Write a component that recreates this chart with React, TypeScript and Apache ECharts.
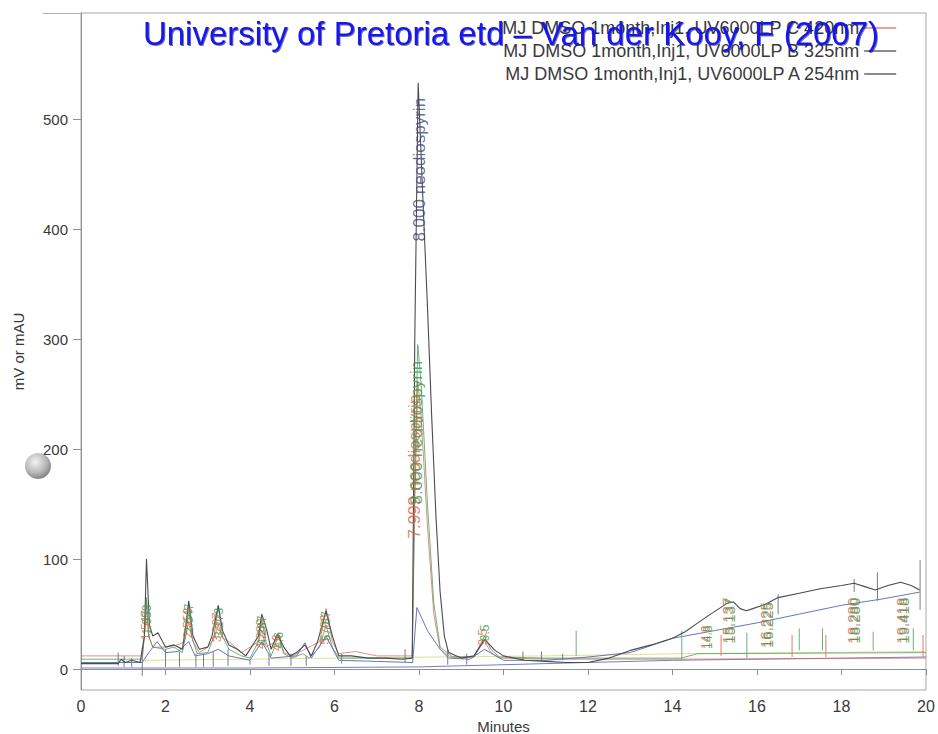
import React, { useEffect, useRef } from 'react';
import * as echarts from 'echarts';

const FONT = '"Liberation Sans", Arial, sans-serif';

const yTickValues = [0, 100, 200, 300, 400, 500];

const nameC = 'MJ DMSO 1month,Inj1, UV6000LP C 420nm';
const nameB = 'MJ DMSO 1month,Inj1, UV6000LP B 325nm';
const nameA = 'MJ DMSO 1month,Inj1, UV6000LP A 254nm';

// dark trace (A 254nm)
const traceA = [
  [0, 5], [0.88, 5], [0.95, 9], [1.05, 6], [1.2, 8], [1.4, 6], [1.5, 30], [1.55, 100], [1.62, 40], [1.7, 30],
  [1.82, 33], [2.0, 20], [2.2, 22], [2.4, 18], [2.5, 45], [2.55, 62], [2.65, 30], [2.8, 18], [3.0, 20],
  [3.1, 30], [3.25, 58], [3.35, 35], [3.5, 22], [3.7, 18], [3.9, 12], [4.2, 30], [4.28, 50], [4.4, 35],
  [4.5, 18], [4.65, 32], [4.8, 20], [4.95, 12], [5.1, 15], [5.3, 22], [5.45, 12], [5.6, 25], [5.8, 53],
  [5.95, 30], [6.1, 12], [6.4, 12], [6.8, 10], [7.2, 10], [7.6, 9], [7.84, 10], [7.9, 300], [7.98, 533],
  [8.1, 420], [8.2, 330], [8.3, 230], [8.4, 140], [8.5, 70], [8.6, 30], [8.7, 15], [9.0, 10], [9.3, 12],
  [9.55, 27], [9.8, 17], [10.0, 12], [10.5, 8], [11.0, 7], [11.5, 6], [12.0, 6], [12.5, 10], [13.0, 17],
  [13.5, 22], [14.0, 28], [14.3, 34], [14.6, 42], [14.9, 50], [15.1, 55], [15.3, 60], [15.45, 61],
  [15.6, 55], [15.75, 53], [15.9, 55], [16.2, 59], [16.5, 65], [17.0, 69], [17.5, 73], [18.0, 76],
  [18.3, 78], [18.55, 75], [18.8, 72], [19.1, 76], [19.4, 79], [19.65, 76], [19.85, 72]
];

// blue trace (B 325nm)
const traceB = [
  [0, 6], [1.45, 6], [1.55, 12], [1.8, 25], [2.0, 15], [2.3, 16], [2.55, 25], [2.7, 12], [3.0, 14],
  [3.25, 18], [3.5, 12], [4.0, 8], [4.28, 25], [4.5, 10], [5.1, 12], [5.3, 24], [5.45, 10], [5.8, 30],
  [6.1, 8], [7.0, 7], [7.85, 6], [7.95, 56], [8.2, 35], [8.5, 18], [8.7, 10], [9.2, 9], [9.55, 18],
  [10.0, 8], [11.0, 8], [12.0, 11], [13.0, 15], [14.0, 28], [15.0, 35], [16.0, 42], [16.5, 46],
  [17.0, 50], [18.0, 58], [19.0, 64], [19.85, 70]
];

// red trace (C)
const traceC = [
  [0, 12], [1.45, 12], [1.5, 30], [1.55, 62], [1.6, 30], [1.7, 20], [2.0, 20], [2.3, 22], [2.45, 25],
  [2.55, 42], [2.65, 25], [2.8, 15], [3.0, 20], [3.15, 28], [3.25, 40], [3.35, 28], [3.5, 25], [3.8, 15],
  [4.2, 25], [4.28, 35], [4.38, 20], [4.6, 25], [4.67, 30], [4.8, 15], [5.0, 12], [5.65, 25], [5.8, 55],
  [5.95, 25], [6.1, 14], [6.5, 16], [7.0, 12], [7.84, 12], [7.9, 150], [7.97, 262], [8.05, 230], [8.2, 130],
  [8.35, 50], [8.5, 18], [8.6, 15], [8.75, 11], [9.3, 11], [9.45, 20], [9.55, 26], [9.7, 15], [9.9, 10],
  [11.5, 9], [14.0, 9], [20.0, 10]
];

// green trace
const traceG = [
  [0, 9], [1.45, 9], [1.5, 30], [1.55, 65], [1.6, 30], [1.7, 20], [2.0, 18], [2.2, 20], [2.4, 15],
  [2.5, 35], [2.55, 58], [2.62, 30], [2.75, 14], [3.0, 15], [3.15, 30], [3.25, 57], [3.35, 30], [3.5, 18],
  [3.8, 12], [4.0, 10], [4.2, 25], [4.28, 45], [4.38, 25], [4.5, 12], [4.6, 22], [4.67, 33], [4.8, 14],
  [5.0, 10], [5.25, 14], [5.4, 10], [5.65, 20], [5.8, 40], [5.95, 20], [6.1, 10], [7.0, 10], [7.84, 10],
  [7.9, 170], [7.97, 295], [8.05, 260], [8.2, 150], [8.35, 60], [8.5, 20], [8.8, 11], [9.3, 11], [9.45, 22],
  [9.55, 30], [9.7, 18], [9.9, 11], [11.0, 10], [12.0, 10], [13.0, 10], [14.2, 10], [14.6, 14], [20.0, 15]
];

// faint yellow baseline
const traceY = [[1.5, 8], [4.0, 9], [6.0, 10], [11.0, 12], [14.2, 14], [20.0, 16]];

// lowest baseline
const traceL = [[0, 1], [4.0, 1], [8.0, 2], [11.0, 5], [14.0, 8], [20.0, 11]];

// integration markers [x, yFrom, yTo]
const darkMarks = [
  [0.88, 3, 15], [1.02, 2, 12], [1.2, 2, 10], [1.45, -6, 20], [2.0, 2, 18], [2.33, 2, 16], [2.72, 2, 14],
  [2.9, 2, 14], [3.13, 2, 16], [3.48, 3, 18], [4.0, 4, 8], [4.45, 3, 14], [4.97, 3, 14], [5.33, 3, 12],
  [6.17, 5, 14], [7.67, 6, 18], [8.68, 4, 18], [9.13, 4, 14], [10.46, 8, 16], [10.9, 8, 16], [11.4, 8, 14],
  [16.5, 50, 68], [18.3, 70, 82], [18.85, 62, 88], [19.86, 54, 99]
];
const greenMarks = [
  [11.72, 12, 35], [14.22, 8, 35], [15.76, 10, 33], [17.0, 17, 37], [17.55, 17, 37], [18.75, 17, 34], [19.7, 17, 37]
];
const redMarks = [
  [15.15, 12, 31], [16.83, 11, 31], [17.63, 11, 31], [19.93, 11, 31]
];

// peak labels [x, y, text]
const darkLabels = [[8.02, 454, '8.000 neodiospyrin']];
const greenLabels = [
  [7.95, 215, '8.000 neodiospyrin'], [1.57, 45, '1.553'], [2.56, 46, '2.547'], [3.26, 42, '3.273'],
  [4.29, 35, '4.287'], [4.68, 26, '4.6'], [5.81, 39, '5.787'], [9.56, 33, '9.5'],
  [14.84, 29, '14.8'], [15.35, 44, '15.137'], [16.25, 40, '16.225'], [18.31, 44, '18.280'], [19.47, 44, '19.418']
];
const redLabels = [
  [7.9, 184, '7.999 neodiospyrin'], [1.53, 40, '1.547'], [2.53, 42, '2.553'], [3.23, 38, '3.267'],
  [4.26, 32, '4.280'], [4.65, 24, '4.6'], [5.78, 36, '5.793'], [9.52, 29, '9.5'],
  [14.8, 29, '14.8'], [15.31, 44, '15.137'], [16.21, 40, '16.225'], [18.27, 44, '18.280'], [19.43, 44, '19.418']
];

const markSeries = (data: number[][], color: string) => ({
  type: 'custom',
  data,
  silent: true,
  encode: { x: 0, y: [1, 2] },
  renderItem: (_p: any, api: any) => {
    const a = api.coord([api.value(0), api.value(1)]);
    const b = api.coord([api.value(0), api.value(2)]);
    return {
      type: 'line',
      shape: { x1: a[0], y1: a[1], x2: b[0], y2: b[1] },
      style: { stroke: color, lineWidth: 1 },
    };
  },
  z: 3,
});

const lineSeries = (name: string, data: number[][], color: string, width = 1, z = 2, opacity = 1) => ({
  type: 'line',
  name,
  data,
  showSymbol: false,
  symbol: 'none',
  silent: true,
  lineStyle: { color, width, opacity },
  itemStyle: { color },
  z,
});

const labelFont = (t: string, x: number) => (t.length > 10 ? 17 : t.length >= 6 && x > 14 ? 15 : 12);

const labelSeries = (data: (number | string)[][], color: string) => ({
  type: 'scatter',
  data: data.map((d) => ({ value: d, label: { fontSize: labelFont(String(d[2]), Number(d[0])) } })),
  symbolSize: 1,
  silent: true,
  itemStyle: { color: 'transparent' },
  encode: { x: 0, y: 1 },
  label: {
    show: true,
    position: 'inside',
    rotate: 90,
    align: 'center',
    verticalAlign: 'middle',
    formatter: (p: any) => p.value[2],
    color,
    fontFamily: FONT,
  },
  z: 6,
});

export default function App() {
  const ref = useRef<HTMLDivElement>(null);
  useEffect(() => {
    if (!ref.current) return;
    const chart = echarts.init(ref.current, undefined, { renderer: 'svg' });
    chart.setOption({
      animation: false,
      backgroundColor: '#ffffff',
      textStyle: { fontFamily: FONT },
      grid: {
        left: 81, right: 12, top: 13, bottom: 44,
        outerBoundsMode: 'none', containLabel: false,
        show: true, borderColor: '#a8a8a8', borderWidth: 1,
      },
      legend: {
        orient: 'vertical',
        left: 497,
        top: 14,
        align: 'right',
        itemGap: 5,
        itemWidth: 32,
        itemHeight: 1.5,
        icon: 'rect',
        textStyle: { fontSize: 18, color: '#3a3a3a', fontFamily: FONT },
        data: [
          { name: nameC, itemStyle: { color: '#e88080' } },
          { name: nameB, itemStyle: { color: '#666666' } },
          { name: nameA, itemStyle: { color: '#666666' } },
        ],
      },
      xAxis: {
        type: 'value',
        min: 0,
        max: 20,
        interval: 2,
        name: 'Minutes',
        nameLocation: 'middle',
        nameGap: 25,
        nameTextStyle: { fontSize: 15, color: '#3a3a3a', fontFamily: FONT },
        axisLine: { show: true, lineStyle: { color: '#909090' } },
        axisTick: { show: true, inside: false, length: 6, lineStyle: { color: '#909090' } },
        axisLabel: { fontSize: 16, color: '#3a3a3a', margin: 8, fontFamily: FONT },
        splitLine: { show: false },
      },
      yAxis: {
        type: 'value',
        min: -19,
        max: 596.5,
        name: 'mV or mAU',
        nameLocation: 'middle',
        nameGap: 55,
        nameTextStyle: { fontSize: 15, color: '#3a3a3a', fontFamily: FONT },
        axisLine: { show: true, lineStyle: { color: '#909090' } },
        axisTick: { show: true, inside: false, length: 8, customValues: yTickValues, lineStyle: { color: '#909090' } },
        axisLabel: { fontSize: 15, color: '#3a3a3a', margin: 13, customValues: yTickValues, fontFamily: FONT },
        splitLine: { show: false },
      },
      series: [
        lineSeries('lowest', traceL, '#7080c0'),
        lineSeries('yellow', traceY, '#e2df95'),
        lineSeries(nameC, traceC, '#e06a50', 1, 2, 0.75),
        lineSeries('green', traceG, '#3f9a55', 1, 2, 0.75),
        lineSeries(nameB, traceB, '#6677b8'),
        lineSeries(nameA, traceA, '#4b4b55', 1.1, 4),
        markSeries(darkMarks, '#7a7a85'),
        markSeries(greenMarks, '#6fae7a'),
        markSeries(redMarks, '#e07a6a'),
        labelSeries(redLabels, '#e0603f'),
        labelSeries(greenLabels, '#3a9a50'),
        labelSeries(darkLabels, '#3d4a80'),
      ],
      graphic: [
        { type: 'line', shape: { x1: 43, y1: 13.5, x2: 81, y2: 13.5 }, style: { stroke: '#b0b0b0', lineWidth: 1 } },
        {
          type: 'circle',
          shape: { cx: 38, cy: 466, r: 13 },
          style: {
            fill: new echarts.graphic.RadialGradient(0.4, 0.35, 0.7, [
              { offset: 0, color: '#f2f2f2' },
              { offset: 0.6, color: '#b8b8b8' },
              { offset: 1, color: '#7a7a7a' },
            ]),
          },
        },
        {
          type: 'text',
          x: 511,
          y: 33,
          z: 100,
          style: {
            text: 'University of Pretoria etd – Van der Kooy, F (2007)',
            fill: '#1414f0',
            font: '33px "Liberation Sans", Arial, sans-serif',
            textAlign: 'center',
            textVerticalAlign: 'middle',
            textShadowColor: 'rgba(0,0,90,0.55)',
            textShadowOffsetX: 1,
            textShadowOffsetY: 1,
            textShadowBlur: 1,
          },
        },
      ],
    });
    return () => chart.dispose();
  }, []);
  return <div ref={ref} style={{ position: 'fixed', left: 0, top: 0, width: 938, height: 734 }} />;
}
